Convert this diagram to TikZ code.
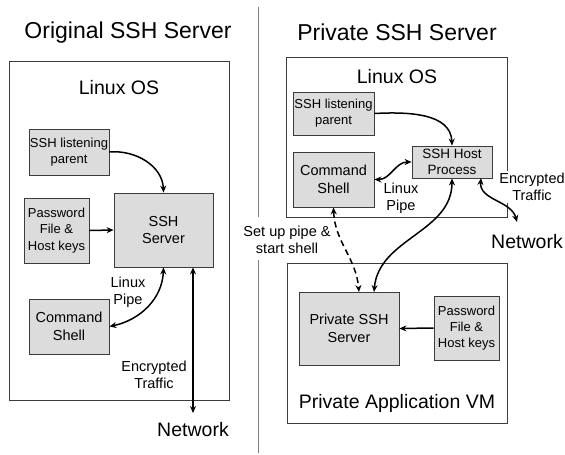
\documentclass[tikz,border=0pt]{standalone}
\usepackage{fontspec}
\setmainfont{Liberation Sans}
\usetikzlibrary{arrows.meta,calc}
\definecolor{boxfill}{HTML}{DCDCDC}
\definecolor{edgegray}{HTML}{3C3C3C}
\tikzset{
  fbox/.style={draw=edgegray, line width=0.8pt, fill=boxfill, inner sep=1pt, align=center, anchor=center},
  obox/.style={draw=edgegray, line width=0.8pt, inner sep=0pt, anchor=center},
  bigtitle/.style={font=\fontsize{23}{27}\selectfont},
  biglabel/.style={font=\fontsize{19.5}{23}\selectfont},
  midtxt/.style={font=\fontsize{14.5}{17.4}\selectfont, align=center},
  smalltxt/.style={font=\fontsize{13}{16.2}\selectfont, align=center},
  arr/.style={line width=1.5pt, -{Stealth[length=7pt,width=6pt]}},
  darr/.style={line width=1.5pt, {Stealth[length=7pt,width=6pt]}-{Stealth[length=7pt,width=6pt]}},
}
\begin{document}
\begin{tikzpicture}[x=1pt,y=-1pt]
\useasboundingbox (0,0) rectangle (565,455);
% divider
\coordinate (dv1) at (258,7);
\coordinate (dv2) at (258,217);
\coordinate (dv3) at (258,260);
\coordinate (dv4) at (258,453);
\draw[line width=0.8pt, color=gray] (dv1) -- (dv2) (dv3) -- (dv4);

% ===== Left =====
\node[bigtitle] (ltitle) at (128,33) {Original SSH Server};
\node[obox, minimum width=220pt, minimum height=339pt] (lout) at (119,230.5) {};
\node[biglabel] (llinux) at (119,88) {Linux OS};
\node[fbox, smalltxt, minimum width=80pt, minimum height=46pt] (llisten) at (69,152) {SSH listening\\parent};
\node[fbox, midtxt, minimum width=99pt, minimum height=74pt] (lssh) at (163.5,230) {SSH\\Server};
\node[fbox, smalltxt, minimum width=65pt, minimum height=65pt] (lpass) at (56.5,230.5) {Password\\File \&\\Host keys};
\node[fbox, midtxt, minimum width=80pt, minimum height=55pt] (lcmd) at (69,326.5) {Command\\Shell};
\node[midtxt] (lpipe) at (128,292) {Linux\\Pipe};
\node[midtxt] (lenc) at (154,375) {Encrypted\\Traffic};
\node[biglabel] (lnet) at (193,430) {Network};
\coordinate (lnetpt) at (193,413);

\draw[arr] (llisten.east) to[out=5,in=92] (lssh.north);
\draw[arr] (lpass.east) -- (lssh.west);
\draw[darr] (lssh.south) to[out=-92,in=12] (lcmd.east);
\draw[darr] (lssh.south -| lnetpt) -- (lnetpt);

% ===== Right =====
\node[bigtitle] (rtitle) at (397,32) {Private SSH Server};
\node[obox, minimum width=221pt, minimum height=160pt] (rlinux) at (396.5,137) {};
\node[biglabel] (rlinuxlbl) at (397,77) {Linux OS};
\node[fbox, smalltxt, minimum width=81pt, minimum height=43pt] (rlisten) at (333.5,113.5) {SSH listening\\parent};
\node[fbox, midtxt, minimum width=81pt, minimum height=55pt] (rcmd) at (333.5,179.5) {Command\\Shell};
\node[fbox, font=\fontsize{13.5}{16}\selectfont, align=center, minimum width=80pt, minimum height=32pt] (rhost) at (452,162) {SSH Host\\Process};
\node[midtxt] (rpipe) at (401,198) {Linux\\Pipe};
\node[midtxt, fill=white, inner sep=2pt] (renc) at (532,187) {Encrypted\\Traffic};
\node[biglabel] (rnet) at (527,242) {Network};
\coordinate (rnetpt) at (517,222);
\coordinate (rhostb) at (481,178);

\node[obox, minimum width=220pt, minimum height=160pt] (rvm) at (397,343) {};
\node[biglabel] (rvmlbl) at (397,403) {Private Application VM};
\node[fbox, midtxt, minimum width=100pt, minimum height=73pt] (rpriv) at (349,328.5) {Private SSH\\Server};
\node[fbox, smalltxt, minimum width=65pt, minimum height=64pt] (rpass) at (466.5,328) {Password\\File \&\\Host keys};
\node[midtxt] (rsetup) at (287,240) {Set up pipe \&\\start shell};
\coordinate (rprivA) at (359,292);
\coordinate (rprivB) at (374,292);

\draw[arr] (rlisten.east) to[out=3,in=92] (rhost.north);
\draw[darr] (rhost.west) to[out=180,in=0] (rcmd.east);
\draw[darr] (rhostb) to[out=-95,in=105] (rnetpt);
\draw[darr] (rhost.south) to[out=-90,in=85] (rprivB);
\draw[darr, dashed, dash pattern=on 6pt off 4pt] (rcmd.south) to[out=-88,in=95] (rprivA);
\draw[arr] (rpass.west) -- (rpriv.east);
\end{tikzpicture}
\end{document}
